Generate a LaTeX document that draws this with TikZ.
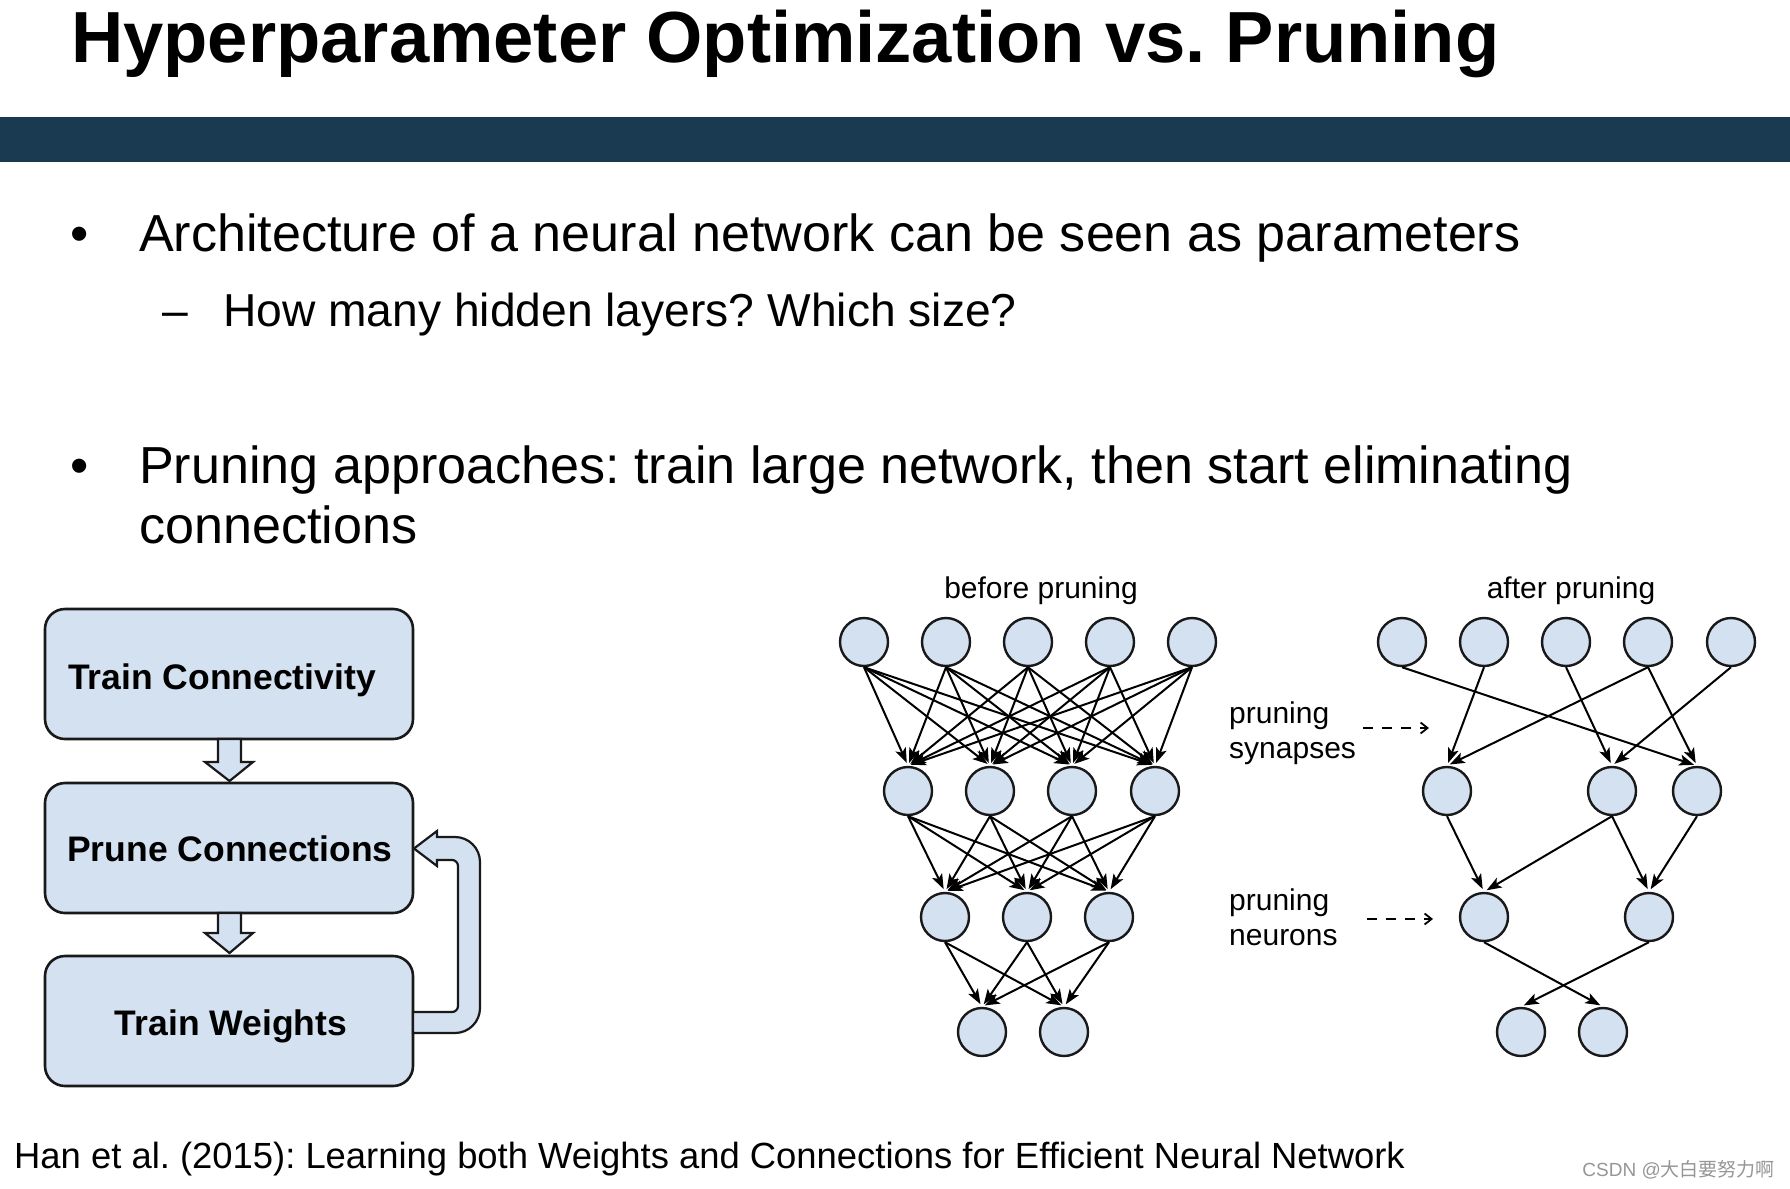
\documentclass[tikz,border=0pt]{standalone}
\usepackage{fontspec}
\setmainfont{Liberation Sans}
\newfontfamily\cjkfont{Noto Sans CJK SC}
\usetikzlibrary{arrows.meta}
\definecolor{cellblue}{RGB}{211,225,241}
\definecolor{barblue}{RGB}{26,58,82}
\definecolor{inkgray}{RGB}{25,25,25}
\definecolor{markgray}{RGB}{150,150,150}
\frenchspacing
\begin{document}
\begin{tikzpicture}[x=1pt,y=-1pt,
  txt/.style={anchor=base west, inner sep=0pt, text=black},
  bigtxt/.style={txt, font=\fontsize{52.1}{62}\selectfont},
  subtxt/.style={txt, font=\fontsize{46.2}{55}\selectfont},
  smalltxt/.style={inner sep=0pt, text=black, font=\fontsize{30}{36}\selectfont},
  flowbox/.style={draw=inkgray, line width=2.6pt, fill=cellblue, rounded corners=20pt,
     minimum width=368pt, minimum height=130pt, inner sep=0pt},
  flowtxt/.style={inner sep=0pt, text=black, font=\fontsize{35.5}{42}\selectfont\bfseries},
  blockarrow/.style={draw=inkgray, line width=2.2pt, fill=cellblue, line join=miter},
  neuron/.style={circle, draw=inkgray, line width=2.4pt, fill=cellblue, minimum size=48pt, inner sep=0pt},
  edge/.style={draw=black, line width=2pt, shorten >=3pt, -{Stealth[length=15pt,width=11pt,inset=3.5pt]}},
  dasharrow/.style={draw=black, line width=1.8pt, dash pattern=on 10pt off 9pt, -{Straight Barb[length=7pt,width=11pt]}}
]
\useasboundingbox (0,0) rectangle (1790,1188);
\fill[white] (0,0) rectangle (1790,1188);
\fill[barblue] (0,117) rectangle (1790,162);

% title
\node[txt, font=\fontsize{72.4}{86}\selectfont\bfseries] (title) at (71,63) {Hyperparameter Optimization vs. Pruning};

% bullets
\node[bigtxt] (b1dot) at (70,251) {•};
\node[bigtxt] (b1) at (139,251) {Architecture of a neural network can be seen as parameters};
\node[subtxt] (s1dash) at (162,326) {–};
\node[subtxt] (s1) at (223,326) {How many hidden layers? Which size?};
\node[bigtxt] (b2dot) at (70,483) {•};
\node[bigtxt] (b2) at (139,483) {Pruning approaches: train large network, then start eliminating};
\node[bigtxt] (b2b) at (139,543) {connections};

% footer
\node[txt, font=\fontsize{36.4}{44}\selectfont] (foot) at (14,1168) {Han et al. (2015): Learning both Weights and Connections for Efficient Neural Network};
\node[inner sep=0pt, anchor=east, text=markgray, font=\fontsize{19}{23}\selectfont] (mark) at (1775,1170) {CSDN @\cjkfont 大白要努力啊};

% flow chart
\node[flowbox] (tc) at (229,674) {};
\node[flowbox] (pc) at (229,848) {};
\node[flowbox] (tw) at (229,1021) {};
\node[flowtxt] (tctext) at (222,680) {Train Connectivity};
\node[flowtxt] (pctext) at (230,849) {Prune Connections};
\node[flowtxt] (twtext) at (231,1026) {Train Weights};
\draw[blockarrow] (218,739) -- (218,762) -- (205,762) -- (229.5,781) -- (253,762) -- (241,762) -- (241,739) -- cycle;
\draw[blockarrow] (218,913) -- (218,933) -- (205,933) -- (229.5,953) -- (253,933) -- (241,933) -- (241,913) -- cycle;
\draw[blockarrow] (413,1033) -- (455,1033) arc[start angle=90,end angle=0,radius=25]
  -- (480,862) arc[start angle=0,end angle=-90,radius=25]
  -- (437,837) -- (437,831) -- (414,848.5) -- (437,866) -- (437,860) -- (452,860)
  arc[start angle=-90,end angle=0,radius=6] -- (458,1006)
  arc[start angle=0,end angle=90,radius=6] -- (413,1012) -- cycle;

% before pruning network
\node[smalltxt, anchor=base] (lbefore) at (1041,598) {before pruning};
\foreach \x [count=\i] in {864,946,1028,1110,1192} \node[neuron] (a\i) at (\x,642) {};
\foreach \x [count=\i] in {908,990,1072,1155} \node[neuron] (b\i) at (\x,791) {};
\foreach \x [count=\i] in {945,1027,1109} \node[neuron] (c\i) at (\x,917) {};
\foreach \x [count=\i] in {982,1064} \node[neuron] (d\i) at (\x,1032) {};
\foreach \i in {1,...,5} \foreach \j in {1,...,4} \draw[edge] (a\i.south) -- (b\j.north);
\foreach \i in {1,...,4} \foreach \j in {1,...,3} \draw[edge] (b\i.south) -- (c\j.north);
\foreach \i in {1,...,3} \foreach \j in {1,2} \draw[edge] (c\i.south) -- (d\j.north);

% labels in the middle
\node[smalltxt, anchor=base west] (ps1) at (1229,723) {pruning};
\node[smalltxt, anchor=base west] (ps2) at (1229,758) {synapses};
\node[smalltxt, anchor=base west] (pn1) at (1229,910) {pruning};
\node[smalltxt, anchor=base west] (pn2) at (1229,945) {neurons};
\coordinate (sa) at (1363,728); \coordinate (sb) at (1429,728);
\coordinate (na) at (1367,919); \coordinate (nb) at (1433,919);
\draw[dasharrow] (sa) -- (sb);
\draw[dasharrow] (na) -- (nb);

% after pruning network
\node[smalltxt, anchor=base] (lafter) at (1571,598) {after pruning};
\foreach \x [count=\i] in {1402,1484,1566,1648,1731} \node[neuron] (e\i) at (\x,642) {};
\node[neuron] (f1) at (1447,791) {};
\node[neuron] (f3) at (1612,791) {};
\node[neuron] (f4) at (1697,791) {};
\node[neuron] (g1) at (1484,917) {};
\node[neuron] (g3) at (1649,917) {};
\node[neuron] (h1) at (1521,1032) {};
\node[neuron] (h2) at (1603,1032) {};
\draw[edge] (e1.south) -- (f4.north);
\draw[edge] (e2.south) -- (f1.north);
\draw[edge] (e3.south) -- (f3.north);
\draw[edge] (e4.south) -- (f1.north);
\draw[edge] (e4.south) -- (f4.north);
\draw[edge] (e5.south) -- (f3.north);
\draw[edge] (f1.south) -- (g1.north);
\draw[edge] (f3.south) -- (g1.north);
\draw[edge] (f3.south) -- (g3.north);
\draw[edge] (f4.south) -- (g3.north);
\draw[edge] (g1.south) -- (h2.north);
\draw[edge] (g3.south) -- (h1.north);
\end{tikzpicture}
\end{document}
